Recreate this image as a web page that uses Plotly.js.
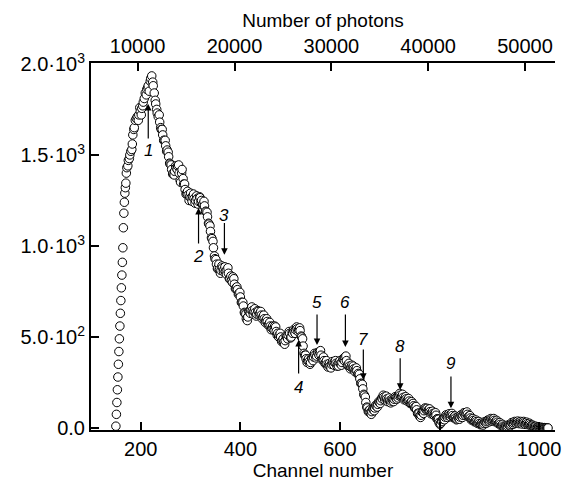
<!DOCTYPE html>
<html>
<head>
<meta charset="utf-8">
<script src="https://cdn.plot.ly/plotly-3.0.1.min.js"></script>
<style>html,body{margin:0;padding:0;background:#fff;}#chart{width:565px;height:481px;}</style>
</head>
<body>
<div id="chart"></div>
<script>
// ---- data ----
// main trace of the spectrum (channel, counts)
const channel = [
150,151,152,153,154,155,156,157,158,159,160,161,162,163,164,165,166,167,168,170,
172,175,178,182,184,187,189,193,196,199,202,205,209,212,215,219,222,225,229,232,
235,238,241,244,247,250,253,256,259,262,
265,268,271,274,277,280,283,286,289,292,
295,298,301,304,307,310,313,316,319,322,
325,328,331,334,337,340,343,346,349,352,
355,358,361,364,367,370,373,376,379,382,
385,388,391,394,397,400,403,406,409,412,
415,418,421,424,427,430,433,436,439,442,
445,448,451,454,457,460,463,466,469,472,
475,478,481,484,487,490,493,496,499,502,
505,508,511,514,517,520,523,526,529,532,
535,538,541,544,547,550,553,556,559,562,
565,568,571,574,577,580,583,586,589,592,
595,598,601,604,607,610,613,616,619,622,
625,628,631,634,637,640,643,646,649,652,
655,658,661,664,667,670,673,676,679,682,
685,688,691,694,697,700,703,706,709,712,
715,718,721,724,727,730,733,736,739,742,
745,748,751,754,757,760,763,766,769,772,
775,778,781,784,787,790,793,796,799,802,
805,808,811,814,817,820,823,826,829,832,
835,838,841,844,847,850,853,856,859,862,
865,868,871,874,877,880,883,886,889,892,
895,898,901,904,907,910,913,916,919,922,
925,928,931,934,937,940,943,946,949,952,
955,958,961,964,967,970,973,976,979,982,
985,988,991,994,997,1000,1003,1006,1009,1012,1015,1018
];
const counts = [
10,75,140,210,280,350,420,490,560,630,700,770,840,910,990,1100,1180,1240,1290,1345,
1430,1470,1500,1530,1610,1650,1690,1710,1720,1740,1756,1790,1840,1860,1880,1905,1934,1880,1800,1750,
1710,1680,1640,1610,1580,1550,1527,1490,1450,1420,
1400,1410,1430,1440,1400,1350,1420,1340,1310,1290,
1280,1270,1265,1270,1260,1250,1260,1245,1265,1250,
1230,1220,1190,1160,1120,1080,1040,990,930,900,
880,870,865,880,870,860,870,850,820,810,
830,790,770,760,740,720,690,670,630,600,
610,640,650,645,640,635,625,640,630,620,
610,600,590,585,570,560,550,545,560,530,
520,510,500,480,470,480,500,510,520,500,
520,530,540,545,540,535,500,450,400,380,
370,365,360,380,390,400,395,410,420,400,
380,370,360,350,345,340,350,355,360,355,
350,360,355,360,375,390,370,345,340,335,
330,325,320,315,300,270,245,215,180,140,
110,95,85,90,100,110,120,130,140,150,
160,170,165,160,155,150,148,152,158,165,
172,178,180,175,168,162,160,155,148,140,
130,122,115,100,80,65,70,85,95,105,
108,100,90,85,80,78,70,50,30,25,
35,50,60,65,68,70,72,68,60,55,
50,55,60,65,70,78,80,75,65,55,
48,42,38,35,30,25,22,20,25,30,
35,40,42,45,45,42,38,32,25,20,
15,10,8,6,10,15,20,25,28,30,
32,30,30,28,30,28,26,24,22,18,
14,10,6,4,3,2,2,1,0,0,0,0
];
// scattered points in between (spread of the band)
const channelB = [
169,171,174,177,180,183,186,191,195,198,201,204,207,211,214,217,220,224,227,230,233,
237,240,243,246,249,252,255,258,261,264,
267,270,273,276,279,282,285,288,291,294,
297,300,303,306,309,312,315,318,321,324,
327,330,333,336,339,342,345,348,351,354,
357,360,363,366,369,372,375,378,381,384,
387,390,393,396,399,402,405,408,411,414,
417,420,423,426,429,432,435,438,441,444,
447,450,453,456,459,462,465,468,471,474,
477,480,483,486,489,492,495,498,501,504,
507,510,513,516,519,522,525,528,531,534,
537,540,543,546,549,552,555,558,561,564,
567,570,573,576,579,582,585,588,591,594,
597,600,603,606,609,612,615,618,621,624,
627,630,633,636,639,642,645,648,651,654,
657,660,663,666,669,672,675,678,681,684,
687,690,693,696,699,702,705,708,711,714,
717,720,723,726,729,732,735,738,741,744,
747,750,753,756,759,762,765,768,771,774,
777,780,783,786,789,792,795,798,801,804,
807,810,813,816,819,822,825,828,831,834,
837,840,843,846,849,852,855,858,861,864,
867,870,873,876,879,882,885,888,891,894,
897,900,903,906,909,912,915,918,921,924,
927,930,933,936,939,942,945,948,951,954,
957,960,963,966,969,972,975,978,981,984,
987,990,993,996,999,1002,1005,1008,1011,1014,1017
];
const countsB = [
1320,1400,1440,1480,1520,1560,1640,1700,1690,1760,1720,1770,1810,1830,1870,1850,1920,1900,1840,1780,1730,
1720,1650,1640,1580,1580,1520,1515,1455,1445,1395,
1390,1440,1420,1445,1360,1400,1370,1340,1285,1300,
1250,1290,1245,1285,1235,1275,1230,1270,1240,1225,
1245,1190,1185,1125,1110,1045,1025,945,925,875,
900,850,890,860,885,845,880,820,835,800,
820,765,775,735,745,690,690,635,625,590,
640,630,665,625,655,615,645,620,640,600,
620,580,600,565,580,540,560,535,555,510,
500,520,475,490,460,505,490,530,495,525,
540,520,555,530,550,505,490,410,400,360,
380,350,385,370,410,385,415,400,425,375,
390,355,370,335,355,330,365,345,370,340,
340,370,345,380,370,395,345,355,325,345,
340,310,330,295,295,245,240,185,170,115,
90,100,75,105,95,125,115,145,135,165,
180,155,175,145,165,138,160,145,172,158,
165,190,170,185,155,172,148,162,135,145,
135,110,118,80,82,58,88,80,110,98,
95,105,78,92,70,84,50,48,20,38,
50,45,72,58,78,62,80,56,66,45,
60,48,72,58,84,70,88,62,68,44,
52,34,44,26,36,18,28,16,35,26,
44,34,52,38,52,34,42,24,30,12,
20,4,12,2,18,12,30,20,36,26,
38,24,36,22,36,20,32,18,26,12,
16,6,10,2,6,0,4,0,2,0,0
];
const xTickVals = [200, 400, 600, 800, 1000];
const photonTickVals = [10000, 20000, 30000, 40000, 50000];
const yTickVals = [0, 500, 1000, 1500, 2000];
const yTickText = ['0.0', '5.0·10<sup>2</sup>', '1.0·10<sup>3</sup>', '1.5·10<sup>3</sup>', '2.0·10<sup>3</sup>'];

// arrow markers: label, channel, tail value, head value, label value
const arrowLabels = ['1','2','3','4','5','6','7','8','9'];
const arrowCh     = [215, 316, 368, 517, 554, 611, 647, 721, 823];
const arrowTail   = [1582, 1005, 1134, 291, 632, 632, 440, 392, 291];
const arrowHead   = [1780, 1209, 951, 484, 456, 445, 264, 209, 108];
const labelVal    = [1527, 941, 1170, 225, 687, 687, 484, 447, 355];

const FONT = 'Liberation Sans, Arial, sans-serif';

// merge both sets in channel order so the circles overlap as in a dense scan
const allPts = channel.map((c, i) => [c, counts[i]])
  .concat(channelB.map((c, i) => [c, countsB[i]]))
  .sort((a, b) => a[0] - b[0]);

const traces = [
  {
    x: allPts.map(p => p[0]), y: allPts.map(p => p[1]), type: 'scatter', mode: 'markers',
    marker: {symbol: 'circle', size: 8.5, color: 'white', line: {color: 'black', width: 1}},
    hoverinfo: 'skip', showlegend: false
  },
  {
    x: [photonTickVals[0]], y: [-5000], xaxis: 'x2', yaxis: 'y', type: 'scatter', mode: 'markers',
    marker: {opacity: 0}, hoverinfo: 'skip', showlegend: false
  }
];

const annotations = [];
for (let i = 0; i < arrowLabels.length; i++) {
  annotations.push({
    x: arrowCh[i], y: arrowHead[i], ax: arrowCh[i], ay: arrowTail[i],
    xref: 'x', yref: 'y', axref: 'x', ayref: 'y',
    text: '', showarrow: true, arrowhead: 2, arrowsize: 1.1, arrowwidth: 1.2, arrowcolor: 'black', standoff: 0, startstandoff: 0
  });
  annotations.push({
    x: arrowCh[i], y: labelVal[i], xref: 'x', yref: 'y',
    text: '<i>' + arrowLabels[i] + '</i>', showarrow: false,
    font: {family: FONT, size: 17, color: 'black'}, xanchor: 'center', yanchor: 'middle'
  });
}

const axisCommon = {
  showgrid: false, zeroline: false, showline: true, linecolor: 'black', linewidth: 2,
  ticks: 'inside', ticklen: 8, tickwidth: 2, tickcolor: 'black',
  tickfont: {family: FONT, size: 20, color: 'black'}
};

const layout = {
  width: 565, height: 481,
  margin: {l: 91, r: 10, t: 63, b: 51, pad: 0},
  paper_bgcolor: 'white', plot_bgcolor: 'white',
  font: {family: FONT, size: 18, color: 'black'},
  xaxis: Object.assign({}, axisCommon, {
    range: [100, 1032], tickmode: 'array', tickvals: xTickVals, ticktext: xTickVals.map(String),
    title: {text: 'Channel number', font: {family: FONT, size: 19, color: 'black'}, standoff: 0},
    automargin: false
  }),
  xaxis2: Object.assign({}, axisCommon, {
    overlaying: 'x', side: 'top', anchor: 'y',
    range: [5180, 53100], tickmode: 'array', tickvals: photonTickVals, ticktext: photonTickVals.map(String),
    title: {text: 'Number of photons', font: {family: FONT, size: 19, color: 'black'}, standoff: 2},
    automargin: false
  }),
  yaxis: Object.assign({}, axisCommon, {
    range: [-11, 2005], tickmode: 'array', tickvals: yTickVals, ticktext: yTickText,
    automargin: false
  }),
  annotations: annotations
};

Plotly.newPlot('chart', traces, layout, {staticPlot: true, displayModeBar: false});
</script>
</body>
</html>
